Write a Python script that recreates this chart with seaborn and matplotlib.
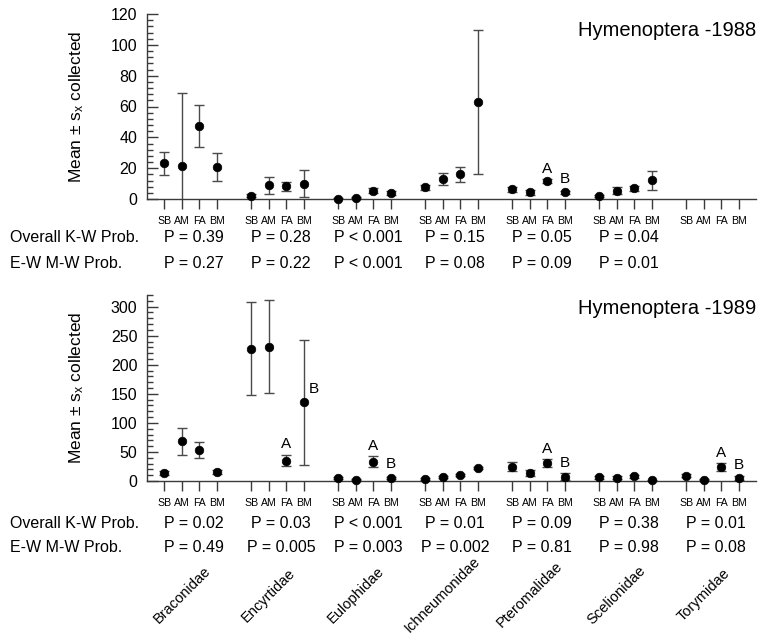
import numpy as np
import pandas as pd
import matplotlib
matplotlib.use("Agg")
import matplotlib.pyplot as plt
import seaborn as sns
from matplotlib.ticker import MultipleLocator
from matplotlib.transforms import blended_transform_factory

# ---------------- data ----------------
families = ["Braconidae", "Encyrtidae", "Eulophidae", "Ichneumonidae",
            "Pteromalidae", "Scelionidae", "Torymidae"]
habitats = ["SB", "AM", "FA", "BM"]
nan = np.nan

mean_1988 = [23.2, 21.6, 47.4, 20.8,
             2.2, 8.8, 8.2, 9.9,
             0.3, 0.9, 5.4, 3.9,
             7.6, 13.2, 16.0, 62.8,
             6.3, 4.3, 11.7, 4.3,
             2.0, 5.4, 6.9, 12.1,
             nan, nan, nan, nan]
se_1988 = [7.4, 47.0, 13.5, 8.8,
           1.1, 5.4, 2.8, 8.8,
           0.3, 0.5, 1.5, 1.5,
           1.5, 3.9, 4.7, 46.5,
           1.5, 1.5, 1.2, 1.0,
           0.5, 2.4, 1.5, 6.3,
           nan, nan, nan, nan]

mean_1989 = [13.8, 68.5, 53.3, 15.0,
             227.7, 231.2, 35.1, 135.3,
             4.6, 2.3, 33.4, 5.8,
             4.0, 6.9, 10.4, 21.9,
             24.8, 13.8, 31.1, 7.5,
             6.3, 5.8, 8.1, 1.2,
             9.2, 2.3, 24.2, 5.2]
se_1989 = [3.5, 23.0, 14.1, 3.5,
           80.3, 79.8, 10.0, 108.0,
           1.5, 1.0, 9.5, 1.5,
           1.5, 2.0, 2.0, 2.0,
           7.2, 5.0, 6.5, 6.0,
           3.0, 3.0, 3.0, 0.5,
           3.0, 1.0, 6.5, 3.0]

# significance letters: (family, habitat, letter)
letters_1988 = [("Pteromalidae", "FA", "A"), ("Pteromalidae", "BM", "B")]
letters_1989 = [("Encyrtidae", "FA", "A"), ("Encyrtidae", "BM", "B"),
                ("Eulophidae", "FA", "A"), ("Eulophidae", "BM", "B"),
                ("Pteromalidae", "FA", "A"), ("Pteromalidae", "BM", "B"),
                ("Torymidae", "FA", "A"), ("Torymidae", "BM", "B")]

kw_1988 = ["P = 0.39", "P = 0.28", "P < 0.001", "P = 0.15", "P = 0.05", "P = 0.04", ""]
ew_1988 = ["P = 0.27", "P = 0.22", "P < 0.001", "P = 0.08", "P = 0.09", "P = 0.01", ""]
kw_1989 = ["P = 0.02", "P = 0.03", "P < 0.001", "P = 0.01", "P = 0.09", "P = 0.38", "P = 0.01"]
ew_1989 = ["P = 0.49", "P = 0.005", "P = 0.003", "P = 0.002", "P = 0.81", "P = 0.98", "P = 0.08"]

row_labels = ["Overall K-W Prob.", "E-W M-W Prob."]
titles = ["Hymenoptera -1988", "Hymenoptera -1989"]

# ---------------- build table ----------------
def make_df(means, ses):
    rows = []
    k = 0
    for g, fam in enumerate(families):
        for i, hab in enumerate(habitats):
            rows.append(dict(family=fam, habitat=hab, pos=5 * g + i,
                             mean=means[k], se=ses[k]))
            k += 1
    return pd.DataFrame(rows)

df88 = make_df(mean_1988, se_1988)
df89 = make_df(mean_1989, se_1989)

# ---------------- style ----------------
sns.set_style("ticks")
plt.rcParams["font.family"] = ["Liberation Sans", "DejaVu Sans"]
plt.rcParams["text.color"] = "black"
plt.rcParams["axes.labelcolor"] = "black"
plt.rcParams["xtick.color"] = "black"
plt.rcParams["ytick.color"] = "black"
plt.rcParams["mathtext.fontset"] = "custom"
plt.rcParams["mathtext.rm"] = "Liberation Sans"
plt.rcParams["mathtext.it"] = "Liberation Sans:italic"

W, H = 764, 640
fig = plt.figure(figsize=(W / 100, H / 100), dpi=100)

def fx(px):
    return px / W

def fy(py):
    return 1 - py / H

axL, axR = 147, 756
ax1 = fig.add_axes([fx(axL), fy(199), fx(axR - axL), fy(14) - fy(199)])
ax2 = fig.add_axes([fx(axL), fy(481), fx(axR - axL), fy(295) - fy(481)])

line_col = "#3a3a3a"

def draw_panel(ax, df, ymax, major, minor, letters, kw, ew, title,
               title_y, row_y, label_y):
    d = df.dropna()
    ax.errorbar(d["pos"], d["mean"], yerr=d["se"], fmt="none",
                ecolor="#4a4a4a", elinewidth=1.0, capsize=3.6, capthick=1.0,
                zorder=2)
    sns.scatterplot(data=d, x="pos", y="mean", ax=ax, color="black",
                    s=38, edgecolor="black", linewidth=0.5, zorder=3,
                    clip_on=False, legend=False)
    ax.set_xlim(-1, 34)
    ax.set_ylim(0, ymax)
    ax.set_xticks(df["pos"])
    ax.set_xticklabels(df["habitat"], fontsize=7.6)
    ax.yaxis.set_major_locator(MultipleLocator(major))
    ax.yaxis.set_minor_locator(MultipleLocator(minor))
    ax.tick_params(axis="y", which="major", direction="in", length=8,
                   width=1, color=line_col, labelsize=11.5, pad=7,
                   labelcolor="black")
    ax.tick_params(axis="y", which="minor", direction="in", length=4,
                   width=1, color=line_col)
    ax.tick_params(axis="x", direction="out", length=7, width=1,
                   color=line_col, pad=5, labelcolor="black")
    for s in ["top", "right"]:
        ax.spines[s].set_visible(False)
    for s in ["left", "bottom"]:
        ax.spines[s].set_color(line_col)
        ax.spines[s].set_linewidth(1)
    ax.set_xlabel("")
    ax.set_ylabel("Mean $\\pm$ s$_\\mathregular{x}$ collected", fontsize=12.5,
                  color="black")
    ax.yaxis.set_label_coords((86 - axL) / (axR - axL), 0.5)
    tr_fig = blended_transform_factory(ax.transAxes, fig.transFigure)
    ax.text(1.0, fy(title_y), title, transform=tr_fig, ha="right",
            va="center", fontsize=14.5, color="black")

    # significance letters
    for fam, hab, let in letters:
        r = df[(df.family == fam) & (df.habitat == hab)].iloc[0]
        if let == "A":
            ax.annotate(let, (r["pos"], r["mean"] + r["se"]), xytext=(0, 2.5),
                        textcoords="offset points", ha="center", va="bottom",
                        fontsize=11, color="black")
        else:
            dx = 7 if r["se"] > 20 else 0
            ax.annotate(let, (r["pos"], r["mean"]), xytext=(dx, 4.5),
                        textcoords="offset points", ha="center", va="bottom",
                        fontsize=11, color="black")

    # probability rows
    tr = blended_transform_factory(ax.transData, fig.transFigure)
    for label, y in zip(row_labels, row_y):
        fig.text(fx(10), fy(y), label, ha="left", va="center", fontsize=11.5,
                 color="black")
    for g in range(len(families)):
        cx = 5 * g + 1.5 + 0.2
        ax.text(cx, fy(row_y[0]), kw[g], transform=tr, ha="center",
                va="center", fontsize=11.5, color="black")
        ax.text(cx, fy(row_y[1]), ew[g], transform=tr, ha="center",
                va="center", fontsize=11.5, color="black")

    if label_y is not None:
        for g, fam in enumerate(families):
            ax.text(5 * g + 1.0, fy(label_y), fam, transform=tr, ha="center",
                    va="center", rotation=45, fontsize=10.5, color="black")

draw_panel(ax1, df88, 120, 20, 4, letters_1988, kw_1988, ew_1988,
           titles[0], 30, (237, 264), None)
draw_panel(ax2, df89, 320, 50, 10, letters_1989, kw_1989, ew_1989,
           titles[1], 308, (523, 548), 595)

fig.savefig("out.png", dpi=100)
